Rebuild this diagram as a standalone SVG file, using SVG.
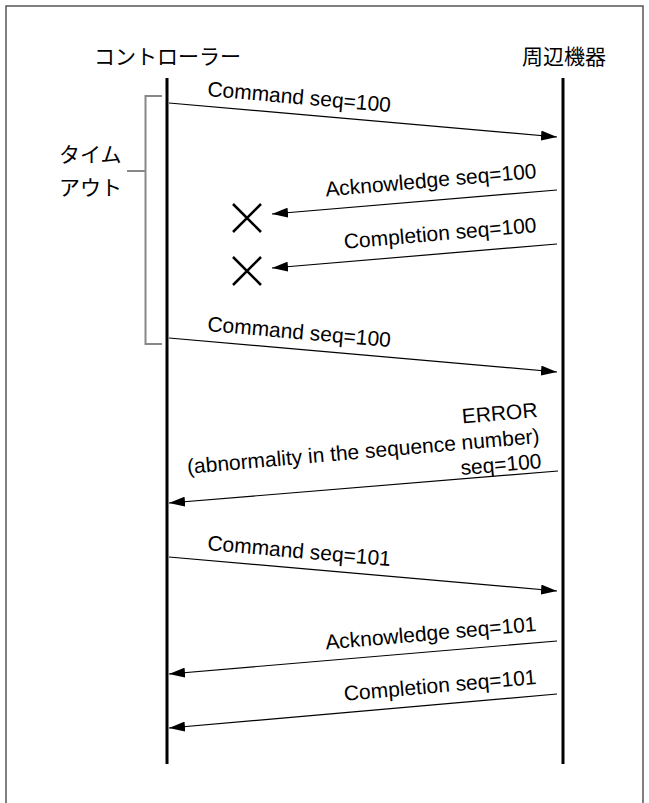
<svg xmlns="http://www.w3.org/2000/svg" width="649" height="803" viewBox="0 0 649 803">
<style>
.lbl{font-family:"Liberation Sans",Arial,sans-serif;font-size:21px;fill:#000}
.jp{font-family:"Noto Sans CJK JP","Noto Sans",sans-serif;font-size:21px;fill:#000}
.msg{stroke:#000;stroke-width:1.2;fill:none;marker-end:url(#ah)}
.life{stroke:#000;stroke-width:3}
.x{stroke:#000;stroke-width:2.5;fill:none}
</style>
<defs>
<marker id="ah" markerUnits="userSpaceOnUse" markerWidth="17" markerHeight="10" refX="16" refY="5" orient="auto">
<path d="M0,0 L16,5 L0,10 z" fill="#000"/>
</marker>
</defs>
<rect x="0" y="0" width="649" height="803" fill="#fff"/>
<rect x="6" y="6" width="637" height="810" fill="none" stroke="#555" stroke-width="1.5"/>
<g id="controller">
<text class="jp" x="94" y="64">コントローラー</text>
<line class="life" x1="167" y1="78" x2="167" y2="764"/>
</g>
<g id="peripheral">
<text class="jp" x="522" y="64">周辺機器</text>
<line class="life" x1="563" y1="78" x2="563" y2="764"/>
</g>
<g id="timeout">
<path d="M162,96 H145.5 V344 H162 M127,171 H145.5" fill="none" stroke="#888" stroke-width="2"/>
<text class="jp" x="59" y="162">タイム</text>
<text class="jp" x="59" y="195">アウト</text>
</g>
<g id="lost">
<path class="x" d="M233,204 L261,232 M261,204 L233,232"/>
<path class="x" d="M233,257 L261,285 M261,257 L233,285"/>
</g>
<g id="connectors">
<line class="msg" x1="169" y1="103" x2="557" y2="137"/>
<line class="msg" x1="557" y1="190" x2="272" y2="214"/>
<line class="msg" x1="557" y1="244" x2="272" y2="268"/>
<line class="msg" x1="169" y1="338" x2="557" y2="372"/>
<line class="msg" x1="558" y1="471" x2="169" y2="503"/>
<line class="msg" x1="169" y1="557" x2="557" y2="591"/>
<line class="msg" x1="557" y1="641" x2="169" y2="674"/>
<line class="msg" x1="557" y1="694" x2="169" y2="728"/>
</g>
<g id="labels">
<text class="lbl" transform="translate(207,96) rotate(5)">Command seq=100</text>
<text class="lbl" text-anchor="end" transform="translate(537,178) rotate(-5)">Acknowledge seq=100</text>
<text class="lbl" text-anchor="end" transform="translate(537,232) rotate(-5)">Completion seq=100</text>
<text class="lbl" transform="translate(207,331) rotate(5)">Command seq=100</text>
<text class="lbl" text-anchor="end" transform="translate(538,417) rotate(-5)">ERROR</text>
<text class="lbl" text-anchor="end" transform="translate(540,443) rotate(-5)">(abnormality in the sequence number)</text>
<text class="lbl" text-anchor="end" transform="translate(542,468) rotate(-5)">seq=100</text>
<text class="lbl" transform="translate(207,550) rotate(5)">Command seq=101</text>
<text class="lbl" text-anchor="end" transform="translate(537,631) rotate(-5)">Acknowledge seq=101</text>
<text class="lbl" text-anchor="end" transform="translate(537,684) rotate(-5)">Completion seq=101</text>
</g>
</svg>
